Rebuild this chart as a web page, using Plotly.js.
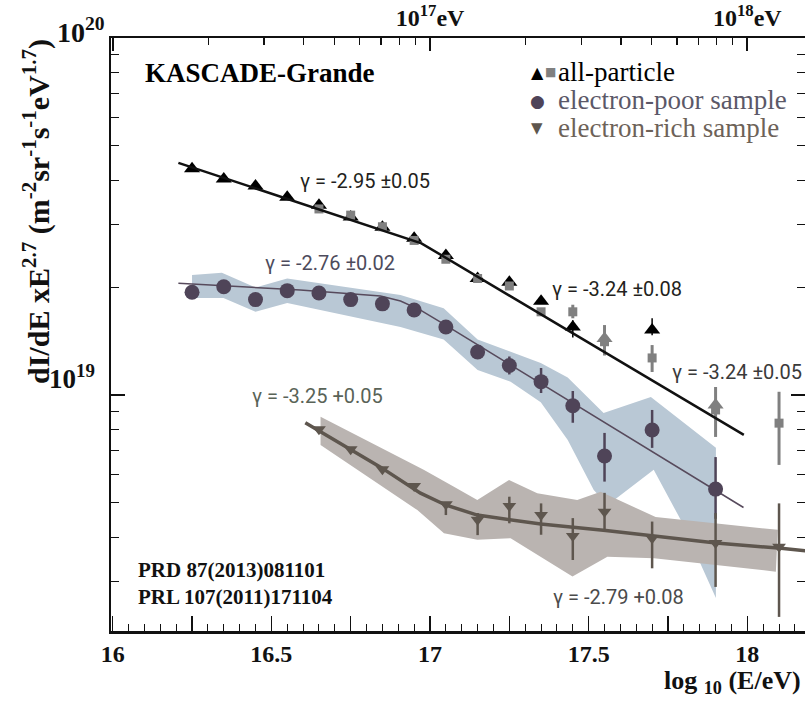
<!DOCTYPE html>
<html><head><meta charset="utf-8">
<script src="https://cdn.plot.ly/plotly-3.0.1.min.js"></script>
<style>html,body{margin:0;padding:0;background:#fff;}#chart{width:805px;height:701px;}</style>
</head><body><div id="chart"></div>
<script>
// ---------- data (log10(E/eV), dI/dE x E^2.7) ----------
const allTriX = [16.25,16.35,16.45,16.55,16.65,16.75,16.85,16.95,17.05,17.15,17.25,17.35,17.45,17.55,17.70,17.90];
const allTriY = [4.30e19,4.03e19,3.85e19,3.58e19,3.40e19,3.15e19,2.95e19,2.75e19,2.46e19,2.12e19,2.07e19,1.83e19,1.55e19,1.44e19,1.52e19,9.38e18];
const allTriErrUp = [0,0,0,0,0,0,0,0,0,0,0,0,0.07e19,0,0.12e19,0];
const allTriErrDn = [0,0,0,0,0,0,0,0,0,0,0,0,0.10e19,0,0.05e19,0];

const allSqX = [16.65,16.75,16.85,16.95,17.05,17.15,17.25,17.35,17.45,17.55,17.70,17.90,18.10];
const allSqY = [3.32e19,3.19e19,2.96e19,2.71e19,2.40e19,2.12e19,2.02e19,1.71e19,1.71e19,1.41e19,1.27e19,9.08e18,8.34e18];
const allSqErrUp = [0,0,0,0,0,0,0,0,0.08e19,0.16e19,0.11e19,1.45e18,1.87e18];
const allSqErrDn = [0,0,0,0,0,0,0,0,0.07e19,0.12e19,0.11e19,1.45e18,1.97e18];

const allFitX = [16.207,16.973,17.989];
const allFitY = [4.47e19,2.66e19,7.73e18];

const poorX = [16.25,16.35,16.45,16.55,16.65,16.75,16.85,16.95,17.05,17.15,17.25,17.35,17.45,17.55,17.70,17.90];
const poorY = [1.94e19,2.01e19,1.85e19,1.96e19,1.93e19,1.85e19,1.80e19,1.73e19,1.55e19,1.32e19,1.21e19,1.09e19,9.33e18,6.75e18,7.98e18,5.45e18];
const poorErrUp = [0,0,0,0,0,0,0,0,0,0,0.072e19,0.10e19,0.93e18,1.08e18,1.10e18,1.25e18];
const poorErrDn = [0,0,0,0,0,0,0,0,0,0,0.068e19,0.077e19,0.97e18,1.03e18,0.87e18,0.95e18];

const poorFitX = [16.207,16.591,16.844,16.907,16.970,17.049,17.988];
const poorFitY = [2.056e19,1.968e19,1.893e19,1.833e19,1.729e19,1.570e19,4.84e18];

const poorBandUpX = [16.250,16.344,16.450,16.550,16.907,17.043,17.150,17.254,17.349,17.434,17.547,17.696,17.901];
const poorBandUpY = [2.17e19,2.20e19,2.00e19,2.12e19,1.905e19,1.75e19,1.43e19,1.32e19,1.23e19,1.12e19,8.91e18,9.87e18,7.11e18];
const poorBandLoX = [16.250,16.349,16.450,16.550,16.907,17.043,17.150,17.254,17.349,17.434,17.516,17.560,17.705,17.790,17.901];
const poorBandLoY = [1.87e19,1.87e19,1.71e19,1.81e19,1.55e19,1.43e19,1.175e19,1.09e19,9.55e18,7.48e18,5.42e18,4.92e18,6.17e18,4.47e18,2.70e18];

const richX = [16.65,16.75,16.85,16.95,17.05,17.15,17.25,17.35,17.45,17.55,17.70,17.90,18.10];
const richY = [8.02e18,7.05e18,6.19e18,5.56e18,4.94e18,4.47e18,4.89e18,4.61e18,4.03e18,4.71e18,3.97e18,3.85e18,3.76e18];
const richErrUp = [0,0,0,0,0,0.20e18,0.30e18,0.36e18,0.49e18,0.61e18,0.45e18,0.82e18,1.21e18];
const richErrDn = [0,0,0,0,0.33e18,0.42e18,0.52e18,0.55e18,0.58e18,0.52e18,0.70e18,0.95e18,1.37e18];

const richFitX = [16.607,16.844,16.970,17.049,17.149,17.349,17.554,17.706,17.901,18.106,18.185];
const richFitY = [8.36e18,6.28e18,5.31e18,4.92e18,4.61e18,4.35e18,4.17e18,4.03e18,3.85e18,3.72e18,3.66e18];

const richBandUpX = [16.655,16.980,17.074,17.149,17.249,17.338,17.464,17.538,17.711,18.096];
const richBandUpY = [8.69e18,6.17e18,5.54e18,5.08e18,5.78e18,5.31e18,5.08e18,5.36e18,4.55e18,4.19e18];
const richBandLoX = [16.655,16.960,17.044,17.149,17.254,17.449,17.559,17.706,18.090];
const richBandLoY = [7.24e18,4.76e18,4.10e18,3.93e18,3.97e18,3.10e18,3.52e18,3.49e18,3.20e18];

const xTickVals = [16,16.25,16.5,16.75,17,17.25,17.5,17.75,18];
const xTickText = ['16','','16.5','','17','','17.5','','18'];
const topTickVals = [1e16,1e17,1e18];
const topTickText = ['','10<sup>17</sup>eV','10<sup>18</sup>eV'];
const topMinorVals = [2e16,3e16,4e16,5e16,6e16,7e16,8e16,9e16,2e17,3e17,4e17,5e17,6e17,7e17,8e17,9e17];
const yTickVals = [1e19,1e20];
const yTickText = ['10<sup>19</sup>','10<sup>20</sup>'];
const yMinorVals = [3e18,4e18,5e18,6e18,7e18,8e18,9e18,2e19,3e19,4e19,5e19,6e19,7e19,8e19,9e19];

const legendLabels = ['all-particle','electron-poor sample','electron-rich sample'];
const gammaLabels = ['γ = -2.95 ±0.05','γ = -2.76 ±0.02','γ = -3.25 +0.05','γ = -3.24 ±0.08','γ = -3.24 ±0.05','γ = -2.79 +0.08'];

// ---------- layout helpers (pixel -> paper) ----------
const ML=111, MT=38, PW=694, PH=593;
const px = v => (v-ML)/PW;
const py = v => (MT+PH-v)/PH;
const SERIF = 'Liberation Serif, Times New Roman, serif';
const SANS = 'Roboto, Liberation Sans, sans-serif';

const band = (ux,uy,lx,ly,color) => ({
  x: ux.concat(lx.slice().reverse()), y: uy.concat(ly.slice().reverse()),
  mode:'lines', fill:'toself', fillcolor:color, line:{width:0}, hoverinfo:'skip', showlegend:false
});

const traces = [
  band(poorBandUpX,poorBandUpY,poorBandLoX,poorBandLoY,'#b9c8d5'),
  band(richBandUpX,richBandUpY,richBandLoX,richBandLoY,'#bab4b1'),
  {x:poorFitX,y:poorFitY,mode:'lines',line:{color:'#574a5c',width:1.5},showlegend:false},
  {x:poorX,y:poorY,mode:'markers',marker:{symbol:'circle',size:15,color:'#4f4458'},
   error_y:{type:'data',symmetric:false,array:poorErrUp,arrayminus:poorErrDn,color:'#4f4458',thickness:2.5,width:0},showlegend:false},
  {x:richFitX,y:richFitY,mode:'lines',line:{color:'#5e564e',width:3.5},showlegend:false},
  {x:richX,y:richY,mode:'markers',marker:{symbol:'triangle-down',size:12,color:'#5e564e'},
   error_y:{type:'data',symmetric:false,array:richErrUp,arrayminus:richErrDn,color:'#5e564e',thickness:2.5,width:0},showlegend:false},
  {x:allFitX.map(v=>Math.pow(10,v)),y:allFitY,xaxis:'x2',yaxis:'y',mode:'lines',line:{color:'#111',width:2.5},showlegend:false},
  {x:allTriX,y:allTriY,mode:'markers',marker:{symbol:'triangle-up',size:14,
    color:allTriX.map((v,i)=> (i===13||i===15)?'#808080':'#000')},
   error_y:{type:'data',symmetric:false,array:allTriErrUp,arrayminus:allTriErrDn,color:'#000',thickness:1.5,width:0},showlegend:false},
  {x:allSqX,y:allSqY,mode:'markers',marker:{symbol:'square',size:9,color:'#808080'},
   error_y:{type:'data',symmetric:false,array:allSqErrUp,arrayminus:allSqErrDn,color:'#808080',thickness:3,width:0},showlegend:false}
];

const ann = (x,y,text,opts) => Object.assign({xref:'paper',yref:'paper',x:px(x),y:py(y),text:text,showarrow:false,
  xanchor:'center',yanchor:'middle'},opts||{});

const annotations = [
  ann(260,73,'KASCADE-Grande',{font:{family:SERIF,size:27,color:'#000',weight:'bold'}}),
  ann(537,72,'▲',{font:{family:'DejaVu Sans',size:16,color:'#000'}}),
  ann(550,72,'■',{font:{family:'DejaVu Sans',size:12,color:'#808080'}}),
  ann(537,101,'●',{font:{family:'DejaVu Sans',size:17,color:'#4f4458'}}),
  ann(537,128,'▼',{font:{family:'DejaVu Sans',size:15,color:'#5e564e'}}),
  ann(556,72,legendLabels[0],{xanchor:'left',font:{family:SERIF,size:27,color:'#000'}}),
  ann(556,100,legendLabels[1],{xanchor:'left',font:{family:SERIF,size:27,color:'#5b5868'}}),
  ann(556,128,legendLabels[2],{xanchor:'left',font:{family:SERIF,size:27,color:'#6d6258'}}),
  ann(365,181,gammaLabels[0],{font:{family:SANS,size:20,color:'#231f20'}}),
  ann(330,263,gammaLabels[1],{font:{family:SANS,size:20,color:'#4d4b5c'}}),
  ann(317,396,gammaLabels[2],{font:{family:SANS,size:20,color:'#596357'}}),
  ann(617,289,gammaLabels[3],{font:{family:SANS,size:20,color:'#231f20'}}),
  ann(737,372,gammaLabels[4],{font:{family:SANS,size:20,color:'#3a3a3a'}}),
  ann(618,597,gammaLabels[5],{font:{family:SANS,size:20,color:'#4b4b4b'}}),
  ann(136,570,'PRD 87(2013)081101',{xanchor:'left',font:{family:SERIF,size:21,color:'#111',weight:'bold'}}),
  ann(136,597,'PRL 107(2011)171104',{xanchor:'left',font:{family:SERIF,size:21,color:'#111',weight:'bold'}}),
  ann(97,377,yTickText[0],{xanchor:'right',font:{family:SERIF,size:27,color:'#111',weight:'bold'}}),
  ann(107,31,yTickText[1],{xanchor:'right',font:{family:SERIF,size:28,color:'#111',weight:'bold'}}),
  ann(37,212,'dI/dE xE<sup>2.7</sup> (m<sup>-2</sup>sr<sup>-1</sup>s<sup>-1</sup>eV<sup>1.7</sup>)',
      {textangle:-90,font:{family:SERIF,size:30,color:'#111',weight:'bold'}}),
  ann(803,700,'log <sub>10</sub> (E/eV)',{xanchor:'right',yanchor:'bottom',font:{family:SERIF,size:26,color:'#111',weight:'bold'}})
];

const axLine = {showline:true,linecolor:'#111',linewidth:2.5,showgrid:false,zeroline:false,ticks:'inside',tickcolor:'#111'};

const layout = {
  width:805,height:701,margin:{l:ML,r:0,t:MT,b:70},
  paper_bgcolor:'#fff',plot_bgcolor:'#fff',showlegend:false,
  xaxis:Object.assign({},axLine,{range:[15.9946,18.1818],tickmode:'array',tickvals:xTickVals,ticktext:xTickText,
    ticklen:15,tickwidth:1.3,tickfont:{family:SERIF,size:24,color:'#111',weight:'bold'},
    minor:{dtick:0.05,tick0:16,ticks:'inside',ticklen:7,tickwidth:1,tickcolor:'#111'}}),
  xaxis2:Object.assign({},axLine,{type:'log',overlaying:'x',side:'top',range:[15.9946,18.1818],tickmode:'array',
    tickvals:topTickVals,ticktext:topTickText,ticklen:13,tickwidth:2,
    tickfont:{family:SERIF,size:24,color:'#111',weight:'bold'},
    minor:{tickmode:'array',tickvals:topMinorVals,ticks:'inside',ticklen:7,tickwidth:1.3,tickcolor:'#111'}}),
  yaxis:Object.assign({},axLine,{type:'log',range:[18.3389,20],tickmode:'array',tickvals:yTickVals,ticktext:yTickText,
    showticklabels:false,ticklen:14,tickwidth:1.3,mirror:'ticks',
    minor:{tickmode:'array',tickvals:yMinorVals,ticks:'inside',ticklen:8,tickwidth:1,tickcolor:'#111'}}),
  annotations:annotations
};

Plotly.newPlot('chart',traces,layout,{displayModeBar:false,staticPlot:true});
</script></body></html>
